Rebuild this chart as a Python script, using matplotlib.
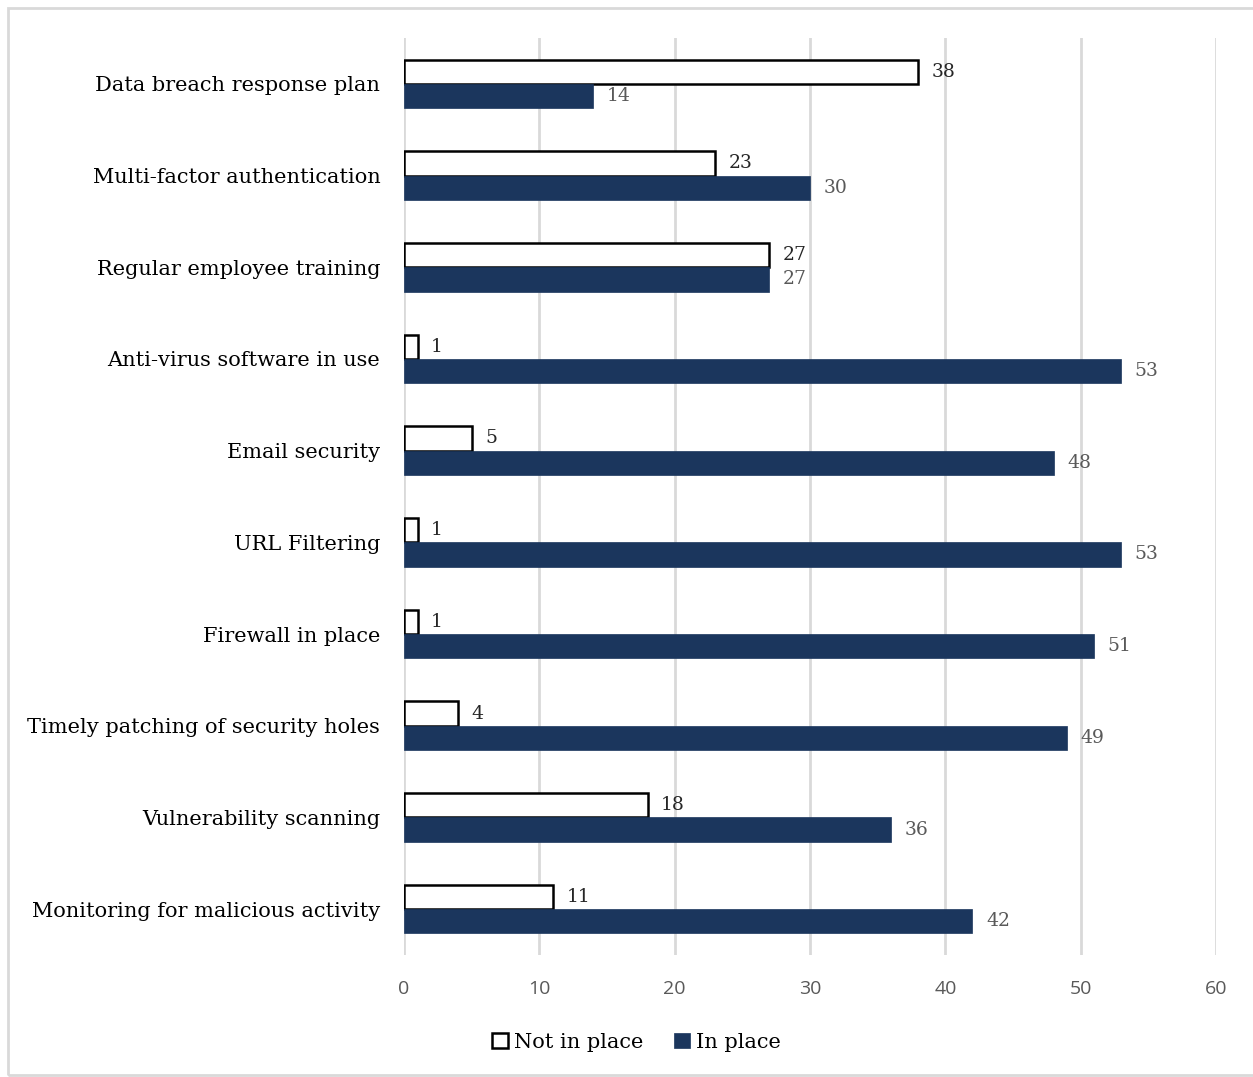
import matplotlib.pyplot as plt
import numpy as np
from matplotlib.patches import Rectangle

categories = ["Data breach response plan", "Multi-factor authentication",
              "Regular employee training", "Anti-virus software in use",
              "Email security", "URL Filtering", "Firewall in place",
              "Timely patching of security holes", "Vulnerability scanning",
              "Monitoring for malicious activity"]
not_in_place = [38, 23, 27, 1, 5, 1, 1, 4, 18, 11]
in_place = [14, 30, 27, 53, 48, 53, 51, 49, 36, 42]
xticks = [0, 10, 20, 30, 40, 50, 60]

navy = "#1b365d"
serif = "DejaVu Serif"

fig = plt.figure(figsize=(12.53, 10.77), dpi=100)
ax = fig.add_axes([0.3224, 0.1133, 0.6481, 0.8514])

y = np.arange(len(categories))
h = 0.265
ax.barh(y - h / 2, not_in_place, height=h, color="white", edgecolor="black",
        linewidth=1.8, label="Not in place", zorder=3)
ax.barh(y + h / 2, in_place, height=h, color=navy, edgecolor=navy,
        linewidth=0.5, label="In place", zorder=3)

for yi, v in zip(y, not_in_place):
    ax.text(v + 1.0, yi - h / 2, str(v), va="center", ha="left",
            fontsize=13.5, family=serif, color="#262626")
for yi, v in zip(y, in_place):
    ax.text(v + 1.0, yi + h / 2, str(v), va="center", ha="left",
            fontsize=13.5, family=serif, color="#595959")

ax.set_xlim(0, 60)
ax.set_ylim(len(categories) - 0.5, -0.5)
ax.set_xticks(xticks)
ax.set_yticks(y)
ax.set_yticklabels(categories, family=serif, fontsize=15, color="black")
ax.tick_params(axis="x", length=0, labelsize=14, labelcolor="#595959", pad=18)
ax.tick_params(axis="y", length=0, pad=17)
for lbl in ax.get_xticklabels():
    lbl.set_family("Open Sans")
ax.grid(axis="x", color="#d9d9d9", linewidth=2, zorder=0)
for s in ax.spines.values():
    s.set_visible(False)

leg = fig.legend(loc="center", bbox_to_anchor=(0.508, 0.032), ncol=2,
                 frameon=False, prop={"family": serif, "size": 15},
                 handlelength=0.75, handleheight=0.75, handletextpad=0.3,
                 columnspacing=1.5)

# light frame around the chart area
fig.patches.append(Rectangle((8 / 1253, 2 / 1077), 1.0, 1 - 10 / 1077,
                             transform=fig.transFigure, fill=False,
                             edgecolor="#d9d9d9", linewidth=2))

fig.savefig("out.png", dpi=100)
